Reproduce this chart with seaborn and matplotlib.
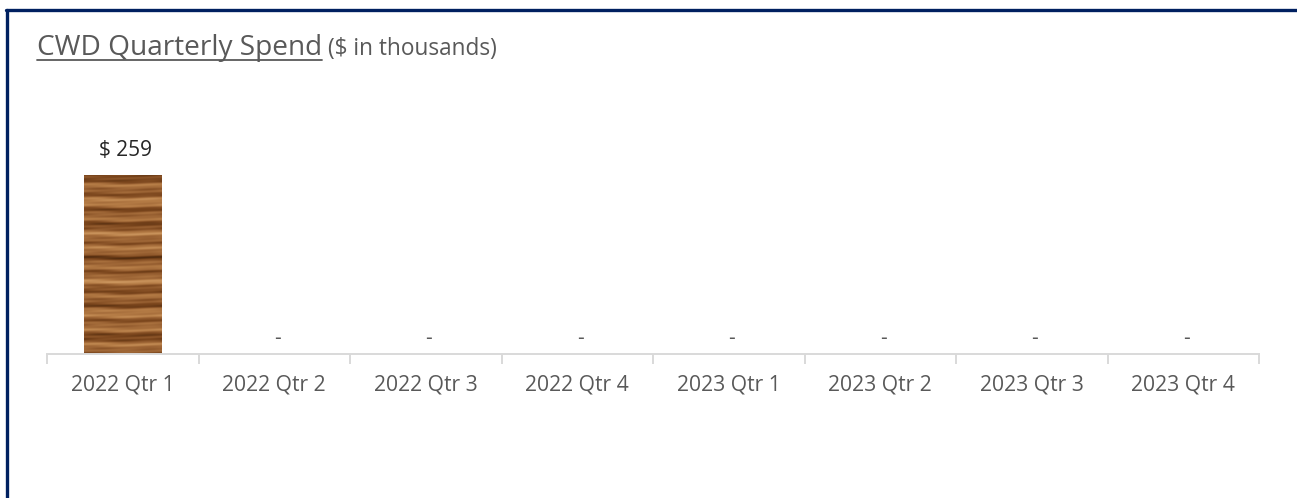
import matplotlib
matplotlib.use("Agg")
import matplotlib.pyplot as plt
import seaborn as sns
import numpy as np
from matplotlib.lines import Line2D
from matplotlib.colors import LinearSegmentedColormap

quarters = ["2022 Qtr 1", "2022 Qtr 2", "2022 Qtr 3", "2022 Qtr 4",
            "2023 Qtr 1", "2023 Qtr 2", "2023 Qtr 3", "2023 Qtr 4"]
spend = [259, 0, 0, 0, 0, 0, 0, 0]

W, H = 1297, 498
sns.set_theme(style="white")
plt.rcParams["font.family"] = ["Open Sans", "DejaVu Sans"]
grey = "#595959"
navy = "#002060"

fig = plt.figure(figsize=(W / 100, H / 100), dpi=100)
ax = fig.add_axes([47 / W, 144 / H, (1259 - 47) / W, 254 / H])

sns.barplot(x=quarters, y=spend, color="#9a6232", width=0.51, ax=ax)
ax.set_xlim(-0.5, len(quarters) - 0.5)
ax.set_ylim(0, 367.5)

# wood grain look on the bars (texture only, not data)
gy = np.linspace(0, 1, 400)[:, None]
gx = np.linspace(0, 1, 60)[None, :]
stripes = (0.45 + 0.22 * np.sin(gy * 71 + 0.3 * np.sin(gx * 9))
           + 0.14 * np.sin(gy * 163 + 1.3 + 0.6 * np.sin(gx * 5 + 2))
           + 0.10 * np.sin(gy * 29 + 0.4)
           + 0.06 * np.sin(gy * 317 + gx * 7))
wood = LinearSegmentedColormap.from_list(
    "wood", ["#cf9a62", "#b47b45", "#9a6233", "#7a451c", "#4e2a0e"])
for p in ax.patches:
    if p.get_height() > 0:
        x0, w, h = p.get_x(), p.get_width(), p.get_height()
        im = ax.imshow(stripes, cmap=wood, extent=(x0, x0 + w, 0, h), aspect="auto",
                       interpolation="bilinear", zorder=p.get_zorder() + 0.1)
        im.set_clip_path(p)

# value labels
for i, v in enumerate(spend):
    if v > 0:
        ax.text(i + 0.015, v + 36, f"$ {v}", ha="center", va="center", fontsize=15, color="#262626")
    else:
        ax.text(i + 0.02, 23, "-", ha="center", va="center", fontsize=15, color=grey)

sns.despine(ax=ax, left=True)
ax.spines["bottom"].set_color("#d9d9d9")
ax.spines["bottom"].set_linewidth(1.4)
ax.set_yticks([])
ax.set_xticks(np.arange(-0.5, len(quarters)), minor=True)
ax.tick_params(axis="x", which="minor", length=7.5, width=1.4, color="#d9d9d9", bottom=True)
ax.tick_params(axis="x", which="major", length=0, pad=14.5, labelsize=15.2, labelcolor=grey)
ax.set_xlabel("")
ax.set_ylabel("")

# title with underline
base = 1 - 55 / H
t1 = fig.text(37 / W, base, "CWD Quarterly Spend", fontsize=20.2, color=grey, va="baseline")
fig.canvas.draw()
bb = t1.get_window_extent()
fig.add_artist(Line2D([bb.x0 / W, bb.x1 / W], [(H - 60) / H] * 2, color=grey, lw=1.3))
fig.text(bb.x1 / W + 6 / W, base, "($ in thousands)", fontsize=16.3, color=grey, va="baseline")

# border
fig.add_artist(Line2D([7 / W, 7 / W], [0, 1 - 10 / H], color=navy, lw=2.4))
fig.add_artist(Line2D([6 / W, 1], [1 - 10 / H] * 2, color=navy, lw=2.4))

fig.savefig("out.png", dpi=100)
